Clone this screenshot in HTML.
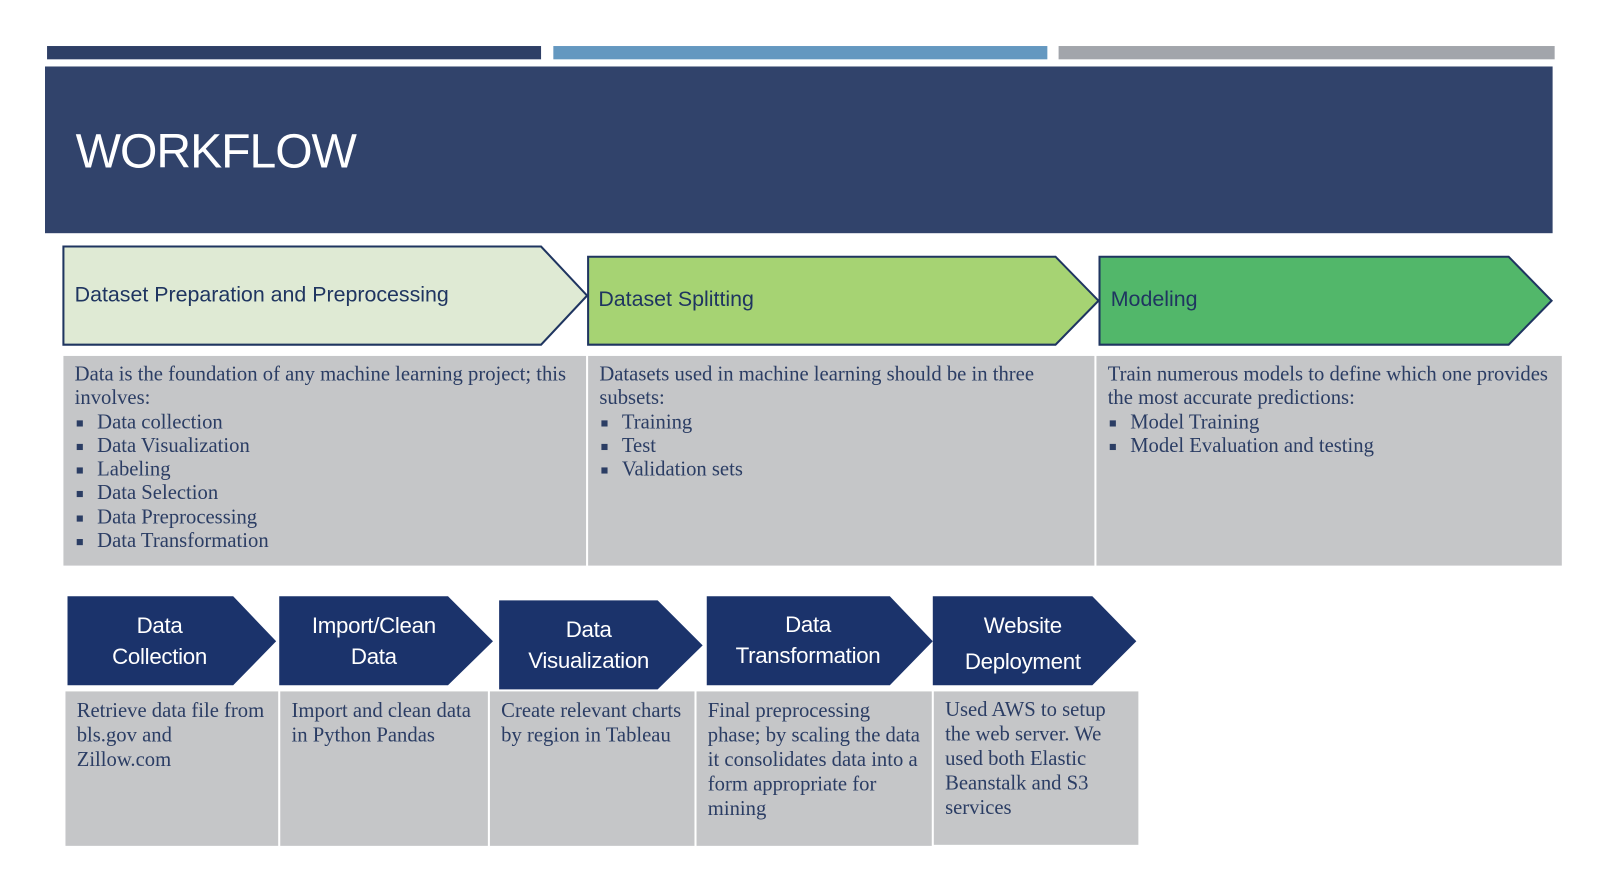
<!DOCTYPE html>
<html><head><meta charset="utf-8"><style>
body{margin:0;width:1604px;height:890px;background:#fff;position:relative;overflow:hidden;font-family:"Liberation Sans",sans-serif}
#w{position:absolute;left:0;top:0;width:1568px;height:870px;transform:scale(1.0228);transform-origin:0 0}
.a{position:absolute}
.box{position:absolute;background:#c5c6c8;font-family:"Liberation Serif",serif;font-size:20.2px;line-height:23.3px;color:#2b3d64;box-sizing:border-box;padding:7px 10px 7px 11px}
.box ul{margin:0;padding:0;list-style:none}
.box li{position:relative;padding-left:22px}
.box li:before{content:"";position:absolute;left:2px;top:9px;width:6px;height:6px;background:#2b3d64}
.ct{position:absolute;color:#fff;font-size:21.8px;line-height:30px;text-align:center;letter-spacing:-0.3px}
.hl{position:absolute;color:#1f3560;font-size:20.9px}
</style></head><body><div id="w">
<div class="a" style="left:46px;top:45px;width:483px;height:13px;background:#2e3f66"></div>
<div class="a" style="left:541px;top:45px;width:483px;height:13px;background:#6498c0"></div>
<div class="a" style="left:1035px;top:45px;width:485px;height:13px;background:#a2a5ab"></div>
<div class="a" style="left:44px;top:65px;width:1474px;height:163px;background:#31436b"></div>
<div class="a" style="left:74px;top:120px;color:#fff;font-size:47px;letter-spacing:-1px">WORKFLOW</div>
<svg class="a" style="left:0;top:0" width="1568" height="870">
<polygon points="62,241 529,241 574,289 529,337 62,337" fill="#dfead4" stroke="#1f3560" stroke-width="2"/>
<polygon points="575,251 1032,251 1074,294 1032,337 575,337" fill="#a6d373" stroke="#1f3560" stroke-width="2"/>
<polygon points="1075,251 1475,251 1517,294 1475,337 1075,337" fill="#52b76a" stroke="#1f3560" stroke-width="2"/>
<g fill="#1b336b">
<polygon points="66,583 228,583 270,627 228,670 66,670"/>
<polygon points="273,583 438,583 482,627 438,670 273,670"/>
<polygon points="488,587 643,587 687,631 643,674 488,674"/>
<polygon points="691,583 870,583 912,627 870,670 691,670"/>
<polygon points="912,583 1068,583 1111,627 1068,670 912,670"/>
</g>
</svg>
<div class="hl" style="left:73px;top:277px">Dataset Preparation and Preprocessing</div>
<div class="hl" style="left:585px;top:281px">Dataset Splitting</div>
<div class="hl" style="left:1086px;top:281px">Modeling</div>
<div class="box" style="left:62px;top:348px;width:511px;height:205px">Data is the foundation of any machine learning project; this involves:<ul><li>Data collection</li><li>Data Visualization</li><li>Labeling</li><li>Data Selection</li><li>Data Preprocessing</li><li>Data Transformation</li></ul></div>
<div class="box" style="left:575px;top:348px;width:495px;height:205px">Datasets used in machine learning should be in three subsets:<ul><li>Training</li><li>Test</li><li>Validation sets</li></ul></div>
<div class="box" style="left:1072px;top:348px;width:455px;height:205px">Train numerous models to define which one provides the most accurate predictions:<ul><li>Model Training</li><li>Model Evaluation and testing</li></ul></div>
<div class="ct" style="left:66px;top:597px;width:180px">Data<br>Collection</div>
<div class="ct" style="left:273px;top:597px;width:185px">Import/Clean<br>Data</div>
<div class="ct" style="left:488px;top:601px;width:175px">Data<br>Visualization</div>
<div class="ct" style="left:691px;top:596px;width:198px">Data<br>Transformation</div>
<div class="ct" style="left:912px;top:594px;width:176px;line-height:35px">Website<br>Deployment</div>
<div class="box" style="left:64px;top:676px;width:208px;height:151px;line-height:24px">Retrieve data file from bls.gov and Zillow.com</div>
<div class="box" style="left:274px;top:676px;width:203px;height:151px;line-height:24px">Import and clean data in Python Pandas</div>
<div class="box" style="left:479px;top:676px;width:200px;height:151px;line-height:24px">Create relevant charts by region in Tableau</div>
<div class="box" style="left:681px;top:676px;width:230px;height:151px;line-height:24px">Final preprocessing phase; by scaling the data it consolidates data into a form appropriate for mining</div>
<div class="box" style="left:913px;top:676px;width:200px;height:150px;padding-top:6px;line-height:24px">Used AWS to setup the web server. We used both Elastic Beanstalk and S3 services</div>
</div></body></html>
